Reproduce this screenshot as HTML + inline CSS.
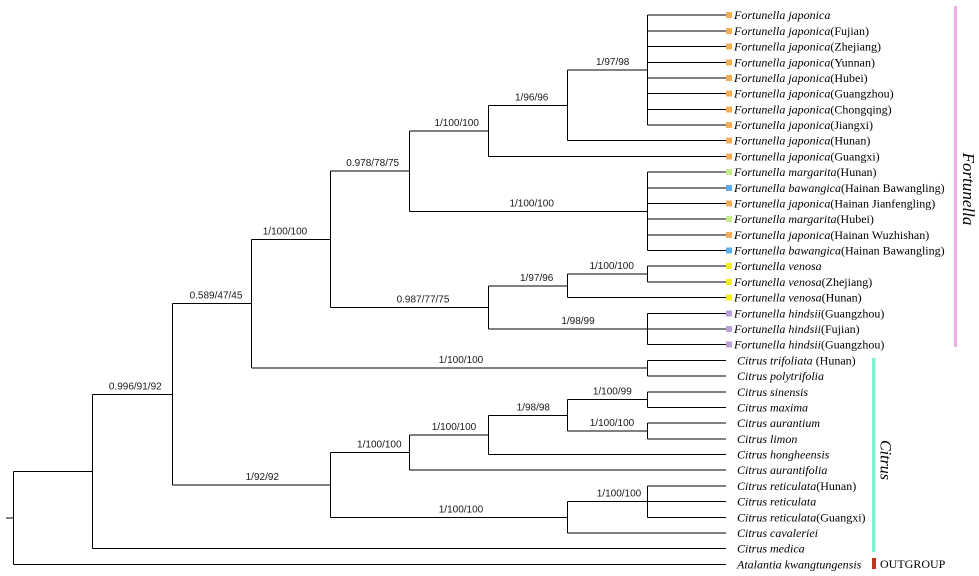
<!DOCTYPE html>
<html><head><meta charset="utf-8"><style>
html,body{margin:0;padding:0;background:#fff;}
svg{display:block;}
.b{font-family:"Liberation Sans",sans-serif;font-size:10px;fill:#1a1a1a;text-anchor:middle;}
.l{font-family:"Liberation Serif",serif;font-size:12px;fill:#000;}
.i{font-style:italic;}
</style></head><body>
<svg width="979" height="576" viewBox="0 0 979 576" xmlns="http://www.w3.org/2000/svg">
<rect width="979" height="576" fill="#fff"/>
<g stroke="#000" stroke-width="1" fill="none" shape-rendering="crispEdges">
<!-- root -->
<path d="M6 517.9H13.5M13.5 471.5V564.35M13.5 471.5H92.5M13.5 564.35H726"/>
<!-- A -->
<path d="M92.5 394.3V548.66M92.5 394.3H172.5M92.5 548.66H726"/>
<!-- B -->
<path d="M172.5 303.7V485M172.5 303.7H251.5M172.5 485H330.5"/>
<!-- C -->
<path d="M251.5 239.3V368.2M251.5 239.3H330.5M251.5 368.2H647.5"/>
<!-- D -->
<path d="M330.5 171.1V307.4M330.5 171.1H409.5M330.5 307.4H488.5"/>
<!-- E -->
<path d="M409.5 130.9V211.3M409.5 130.9H488.5M409.5 211.3H647.5"/>
<!-- F -->
<path d="M488.5 105.4V156.41M488.5 105.4H567.5M488.5 156.41H726"/>
<!-- H -->
<path d="M567.5 70.1V140.72M567.5 70.1H647.5M567.5 140.72H726"/>
<!-- I -->
<path d="M647.5 15.2V125.03M647.5 15.2H726M647.5 30.89H726M647.5 46.58H726M647.5 62.27H726M647.5 77.96H726M647.5 93.65H726M647.5 109.34H726M647.5 125.03H726"/>
<!-- G -->
<path d="M647.5 172.1V250.55M647.5 172.1H726M647.5 187.79H726M647.5 203.48H726M647.5 219.17H726M647.5 234.86H726M647.5 250.55H726"/>
<!-- VH -->
<path d="M488.5 285.9V329M488.5 285.9H567.5M488.5 329H647.5"/>
<!-- J -->
<path d="M567.5 274.1V297.62M567.5 274.1H647.5M567.5 297.62H726"/>
<!-- K -->
<path d="M647.5 266.24V281.93M647.5 266.24H726M647.5 281.93H726"/>
<!-- hindsii -->
<path d="M647.5 313.31V344.69M647.5 313.31H726M647.5 329H726M647.5 344.69H726"/>
<!-- T -->
<path d="M647.5 360.38V376.07M647.5 360.38H726M647.5 376.07H726"/>
<!-- L -->
<path d="M330.5 452.6V517.3M330.5 452.6H409.5M330.5 517.3H567.5"/>
<!-- M -->
<path d="M409.5 434.9V470.21M409.5 434.9H488.5M409.5 470.21H726"/>
<!-- O -->
<path d="M488.5 415.3V454.52M488.5 415.3H567.5M488.5 454.52H726"/>
<!-- P -->
<path d="M567.5 399.6V431M567.5 399.6H647.5M567.5 431H647.5"/>
<!-- Q -->
<path d="M647.5 391.76V407.45M647.5 391.76H726M647.5 407.45H726"/>
<!-- R -->
<path d="M647.5 423.14V438.83M647.5 423.14H726M647.5 438.83H726"/>
<!-- N -->
<path d="M567.5 501.59V532.97M567.5 501.59H647.5M567.5 532.97H726"/>
<!-- S -->
<path d="M647.5 485.9V517.28M647.5 485.9H726M647.5 501.59H726M647.5 517.28H726"/>
</g>

<!-- branch support labels -->
<g class="b">
<text x="135.3" y="389.3">0.996/91/92</text>
<text x="216" y="298.7">0.589/47/45</text>
<text x="285" y="234.3">1/100/100</text>
<text x="262.3" y="480">1/92/92</text>
<text x="372.7" y="166.1">0.978/78/75</text>
<text x="456.7" y="125.9">1/100/100</text>
<text x="531.7" y="206.3">1/100/100</text>
<text x="531.7" y="100.4">1/96/96</text>
<text x="612.7" y="65.1">1/97/98</text>
<text x="423" y="302.4">0.987/77/75</text>
<text x="536.7" y="280.9">1/97/96</text>
<text x="611.7" y="269.1">1/100/100</text>
<text x="578" y="324">1/98/99</text>
<text x="461" y="363.2">1/100/100</text>
<text x="379.3" y="447.6">1/100/100</text>
<text x="461" y="512.3">1/100/100</text>
<text x="454" y="429.9">1/100/100</text>
<text x="533.3" y="410.3">1/98/98</text>
<text x="612.3" y="394.6">1/100/99</text>
<text x="612" y="426">1/100/100</text>
<text x="619" y="496.6">1/100/100</text>
</g>

<!-- colored squares -->
<g shape-rendering="crispEdges">
<rect x="726" y="12.2" width="6" height="6" fill="#f7ae50"/>
<rect x="726" y="27.89" width="6" height="6" fill="#f7ae50"/>
<rect x="726" y="43.58" width="6" height="6" fill="#f7ae50"/>
<rect x="726" y="59.27" width="6" height="6" fill="#f7ae50"/>
<rect x="726" y="74.96" width="6" height="6" fill="#f7ae50"/>
<rect x="726" y="90.65" width="6" height="6" fill="#f7ae50"/>
<rect x="726" y="106.34" width="6" height="6" fill="#f7ae50"/>
<rect x="726" y="122.03" width="6" height="6" fill="#f7ae50"/>
<rect x="726" y="137.72" width="6" height="6" fill="#f7ae50"/>
<rect x="726" y="153.41" width="6" height="6" fill="#f7ae50"/>
<rect x="726" y="169.1" width="6" height="6" fill="#c6ee86"/>
<rect x="726" y="184.79" width="6" height="6" fill="#5ab0ee"/>
<rect x="726" y="200.48" width="6" height="6" fill="#f7ae50"/>
<rect x="726" y="216.17" width="6" height="6" fill="#c6ee86"/>
<rect x="726" y="231.86" width="6" height="6" fill="#f7ae50"/>
<rect x="726" y="247.55" width="6" height="6" fill="#5ab0ee"/>
<rect x="726" y="263.24" width="6" height="6" fill="#f5ef12"/>
<rect x="726" y="278.93" width="6" height="6" fill="#f5ef12"/>
<rect x="726" y="294.62" width="6" height="6" fill="#f5ef12"/>
<rect x="726" y="310.31" width="6" height="6" fill="#b9a0d6"/>
<rect x="726" y="326" width="6" height="6" fill="#b9a0d6"/>
<rect x="726" y="341.69" width="6" height="6" fill="#b9a0d6"/>
</g>

<!-- leaf labels -->
<g class="l">
<text x="734" y="19.2"><tspan class="i">Fortunella japonica</tspan></text>
<text x="734" y="34.89"><tspan class="i">Fortunella japonica</tspan>(Fujian)</text>
<text x="734" y="50.58"><tspan class="i">Fortunella japonica</tspan>(Zhejiang)</text>
<text x="734" y="66.27"><tspan class="i">Fortunella japonica</tspan>(Yunnan)</text>
<text x="734" y="81.96"><tspan class="i">Fortunella japonica</tspan>(Hubei)</text>
<text x="734" y="97.65"><tspan class="i">Fortunella japonica</tspan>(Guangzhou)</text>
<text x="734" y="113.34"><tspan class="i">Fortunella japonica</tspan>(Chongqing)</text>
<text x="734" y="129.03"><tspan class="i">Fortunella japonica</tspan>(Jiangxi)</text>
<text x="734" y="144.72"><tspan class="i">Fortunella japonica</tspan>(Hunan)</text>
<text x="734" y="160.41"><tspan class="i">Fortunella japonica</tspan>(Guangxi)</text>
<text x="734" y="176.1"><tspan class="i">Fortunella margarita</tspan>(Hunan)</text>
<text x="734" y="191.79"><tspan class="i">Fortunella bawangica</tspan>(Hainan Bawangling)</text>
<text x="734" y="207.48"><tspan class="i">Fortunella japonica</tspan>(Hainan Jianfengling)</text>
<text x="734" y="223.17"><tspan class="i">Fortunella margarita</tspan>(Hubei)</text>
<text x="734" y="238.86"><tspan class="i">Fortunella japonica</tspan>(Hainan Wuzhishan)</text>
<text x="734" y="254.55"><tspan class="i">Fortunella bawangica</tspan>(Hainan Bawangling)</text>
<text x="734" y="270.24"><tspan class="i">Fortunella venosa</tspan></text>
<text x="734" y="285.93"><tspan class="i">Fortunella venosa</tspan>(Zhejiang)</text>
<text x="734" y="301.62"><tspan class="i">Fortunella venosa</tspan>(Hunan)</text>
<text x="734" y="317.31"><tspan class="i">Fortunella hindsii</tspan>(Guangzhou)</text>
<text x="734" y="333"><tspan class="i">Fortunella hindsii</tspan>(Fujian)</text>
<text x="734" y="348.69"><tspan class="i">Fortunella hindsii</tspan>(Guangzhou)</text>
<text x="737" y="364.38"><tspan class="i">Citrus trifoliata</tspan> (Hunan)</text>
<text x="737" y="380.07"><tspan class="i">Citrus polytrifolia</tspan></text>
<text x="737" y="395.76"><tspan class="i">Citrus sinensis</tspan></text>
<text x="737" y="411.45"><tspan class="i">Citrus maxima</tspan></text>
<text x="737" y="427.14"><tspan class="i">Citrus aurantium</tspan></text>
<text x="737" y="442.83"><tspan class="i">Citrus limon</tspan></text>
<text x="737" y="458.52"><tspan class="i">Citrus hongheensis</tspan></text>
<text x="737" y="474.21"><tspan class="i">Citrus aurantifolia</tspan></text>
<text x="737" y="489.9"><tspan class="i">Citrus reticulata</tspan>(Hunan)</text>
<text x="737" y="505.59"><tspan class="i">Citrus reticulata</tspan></text>
<text x="737" y="521.28"><tspan class="i">Citrus reticulata</tspan>(Guangxi)</text>
<text x="737" y="536.97"><tspan class="i">Citrus cavaleriei</tspan></text>
<text x="737" y="552.66"><tspan class="i">Citrus medica</tspan></text>
<text x="737" y="568.35"><tspan class="i">Atalantia kwangtungensis</tspan></text>
</g>

<!-- group bars -->
<rect x="954" y="6" width="3" height="341" fill="#f0aee4"/>
<rect x="872" y="358" width="3.5" height="194" fill="#7ff2d6"/>
<rect x="872" y="558" width="4" height="11" fill="#b5391a"/>
<text x="880" y="568" font-family="'Liberation Serif',serif" font-size="12" fill="#000">OUTGROUP</text>
<text transform="translate(963,189) rotate(90)" text-anchor="middle" font-family="'Liberation Serif',serif" font-style="italic" font-size="17" fill="#000">Fortunella</text>
<text transform="translate(880.5,460) rotate(90)" text-anchor="middle" font-family="'Liberation Serif',serif" font-style="italic" font-size="16" fill="#000">Citrus</text>
</svg>
</body></html>
